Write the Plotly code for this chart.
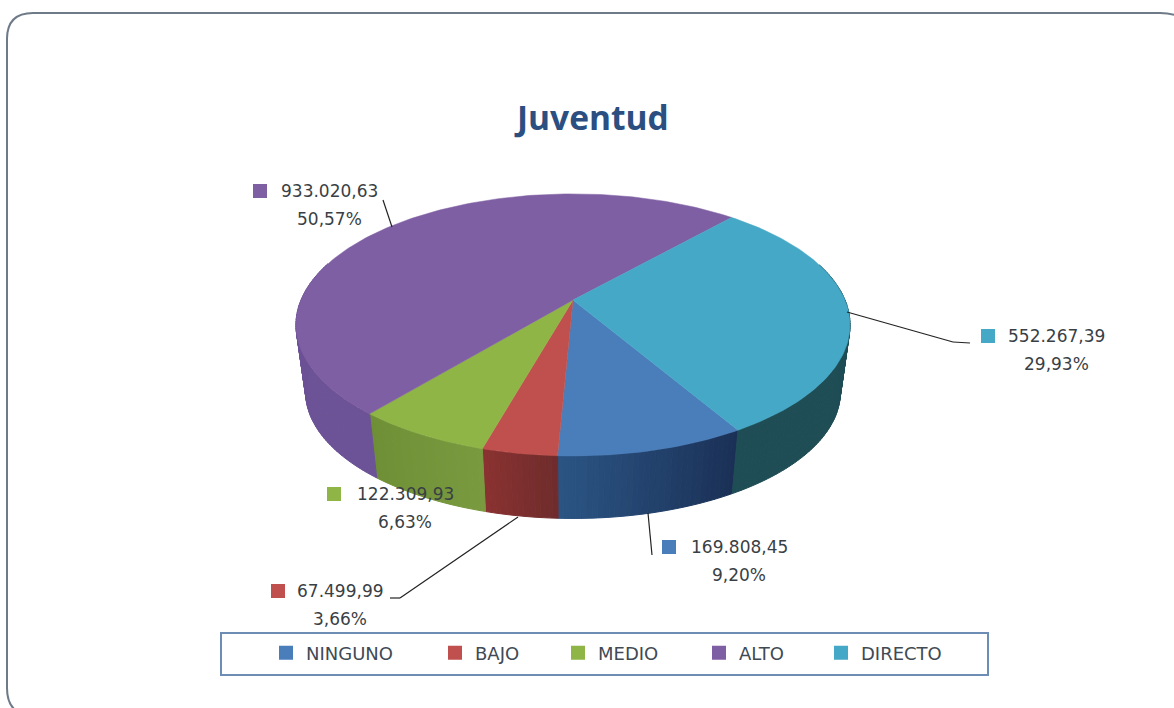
import math
import plotly.graph_objects as go

categories = ["NINGUNO", "BAJO", "MEDIO", "ALTO", "DIRECTO"]
values = [169808.45, 67499.99, 122309.93, 933020.63, 552267.39]
percents = ["9,20%", "3,66%", "6,63%", "50,57%", "29,93%"]

top_colors = ["#4a7ebb", "#c0504d", "#8fb546", "#7f5fa3", "#44a8c6"]
wall_left = ["#2b5584", "#8a3231", "#6f8f36", "#6a4f95", "#1f4d55"]
wall_right = ["#1a2f55", "#6f2c2c", "#7a9a40", "#6c5296", "#1f4d55"]

WIDTH, HEIGHT = 1174, 708
# pie geometry in pixels, with a perspective term so the front looks bigger
CX, CY = 573, 300
R, C, K = 272, 126.3, 0.19
BOTTOM_SCALE, DEPTH = 0.965, 68
START = 59.5

# where each data label sits: key square x, text centre x, first line y
label_pos = [(669, 739, 547), (278, 340, 591), (334, 405, 494), (260, 329, 191), (988, 1056, 336)]
legend_x = [266, 435, 558, 699, 821]
leaders = [
    [(648, 513), (652, 555)],
    [(518, 517), (400, 598), (390, 598)],
    [],
    [(383, 200), (392, 227)],
    [(847, 312), (953, 342), (970, 343)],
]


def top_point(deg):
    a = math.radians(deg)
    f = 1 - K * math.sin(a)
    return CX + R * math.cos(a) / f, CY + C * math.sin(a) / f


def bottom_point(deg):
    x, y = top_point(deg)
    return CX + (x - CX) * BOTTOM_SCALE, CY + (y - CY) * BOTTOM_SCALE + DEPTH


def mix(c1, c2, t):
    a = [int(c1[i:i + 2], 16) for i in (1, 3, 5)]
    b = [int(c2[i:i + 2], 16) for i in (1, 3, 5)]
    return "rgb(%d,%d,%d)" % tuple(round(p + (q - p) * t) for p, q in zip(a, b))


total = sum(values)
fig = go.Figure()

# slice limits, clockwise from START
limits = []
angle = START
for v in values:
    limits.append((angle, angle + v / total * 360))
    angle += v / total * 360

# walls first, the tops are painted over them
for i, (a0, a1) in enumerate(limits):
    steps = max(2, int(a1 - a0))
    for s in range(steps):
        d0 = a0 + (a1 - a0) * s / steps
        d1 = a0 + (a1 - a0) * (s + 1) / steps
        if math.sin(math.radians((d0 + d1) / 2)) < -0.3:
            continue
        p = [top_point(d0), top_point(d1), bottom_point(d1), bottom_point(d0), top_point(d0)]
        # colour runs from the left side of the slice to the right on screen
        col = mix(wall_right[i], wall_left[i], (s + 0.5) / steps)
        fig.add_trace(go.Scatter(x=[q[0] for q in p], y=[q[1] for q in p], mode="lines", fill="toself",
                                 fillcolor=col, line=dict(color=col, width=1), showlegend=False, hoverinfo="skip"))

for i, (a0, a1) in enumerate(limits):
    steps = max(2, int(a1 - a0))
    pts = [(CX, CY)] + [top_point(a0 + (a1 - a0) * s / steps) for s in range(steps + 1)] + [(CX, CY)]
    fig.add_trace(go.Scatter(x=[q[0] for q in pts], y=[q[1] for q in pts], mode="lines", fill="toself",
                             fillcolor=top_colors[i], line=dict(color=top_colors[i], width=0.5),
                             name=categories[i], showlegend=False, hoverinfo="text", text=categories[i]))

# key squares next to the labels, they also feed the legends
legends = {}
for i, name in enumerate(categories):
    key = "legend" if i == 0 else "legend%d" % (i + 1)
    fig.add_trace(go.Scatter(x=[label_pos[i][0]], y=[label_pos[i][2]], mode="markers", name=name,
                             marker=dict(symbol="square", size=14, color=top_colors[i]),
                             legend=key, showlegend=True, hoverinfo="skip"))
    legends[key] = dict(x=legend_x[i] / WIDTH, y=1 - 653 / HEIGHT, xanchor="left", yanchor="middle",
                        bgcolor="rgba(0,0,0,0)", font=dict(family="DejaVu Sans", size=18, color="#404a55"))

annotations = [dict(text="Juventud", x=591, y=117, xref="x", yref="y", showarrow=False,
                    font=dict(family="Open Sans", size=33.5, color="#2a4f80", weight="bold"))]
for i in range(len(values)):
    value_text = f"{values[i]:,.2f}".replace(",", "#").replace(".", ",").replace("#", ".")
    _, tx, ty = label_pos[i]
    for text, y in ((value_text, ty), (percents[i], ty + 28)):
        annotations.append(dict(text=text, x=tx, y=y, xref="x", yref="y", showarrow=False,
                                font=dict(family="DejaVu Sans", size=17, color="#3a3f45")))

shapes = [
    # rounded chart frame, runs off to the right and the bottom
    dict(type="path", xref="x", yref="y", line=dict(color="#6e7a88", width=2),
         path="M 1200 42 Q 1192 13 1160 13 L 33 13 Q 7 13 7 39 L 7 688 Q 7 716 35 716 L 1200 716"),
    dict(type="rect", xref="x", yref="y", x0=221, y0=633, x1=988, y1=675, layer="below",
         line=dict(color="#6d8db5", width=2)),
]
for pts in leaders:
    for (x0, y0), (x1, y1) in zip(pts, pts[1:]):
        shapes.append(dict(type="line", xref="x", yref="y", x0=x0, y0=y0, x1=x1, y1=y1,
                           line=dict(color="#222222", width=1.2)))

fig.update_layout(
    width=WIDTH, height=HEIGHT, margin=dict(l=0, r=0, t=0, b=0),
    paper_bgcolor="white", plot_bgcolor="white",
    xaxis=dict(range=[0, WIDTH], visible=False, fixedrange=True),
    yaxis=dict(range=[HEIGHT, 0], visible=False, fixedrange=True),
    annotations=annotations, shapes=shapes,
    **legends,
)

# the page has a default body margin, drop it so the chart fills the window
fig.write_html("out.html", config=dict(displayModeBar=False),
               post_script="document.body.style.margin='0';")
